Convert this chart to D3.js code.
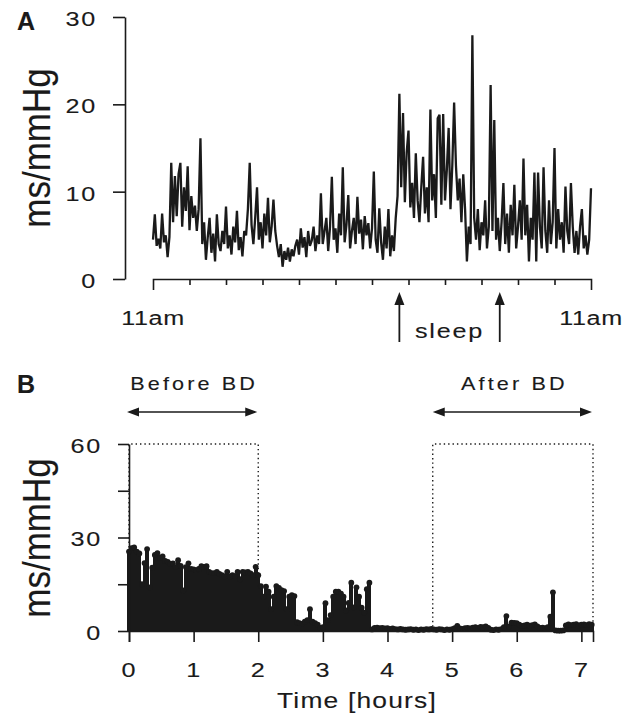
<!DOCTYPE html>
<html lang="en">
<head>
  <meta charset="UTF-8">
  <title>Baroreflex sensitivity</title>
  <script src="https://d3js.org/d3.v7.min.js"></script>
  <style>
    body {
      margin: 0;
      background: #fff;
    }
    svg text {
      font-family: "Liberation Sans", Arial, sans-serif;
      fill: #1a1a1a;
      stroke: #1a1a1a;
      stroke-width: 0.12px;
    }
    .tick text {
      font-size: 21px;
      letter-spacing: 1.5px;
    }
    .domain, .tick line {
      stroke: #1a1a1a;
      stroke-width: 1.6;
    }
  </style>
</head>
<body>
  <svg width="636" height="719"></svg>

  <script>
    // Panel A: 24 h trace, one value every 0.1 h starting at 11am
    const valuesA = [
      4.5, 7.4, 3.8, 4.6, 3.5, 7.5, 4.2, 5.0, 2.5, 4.8,
      13.3, 6.5, 11.8, 7.2, 12.0, 13.3, 6.0, 10.5, 7.8, 12.9, 5.6, 9.5, 7.0, 8.4, 5.5, 8.0, 16.1,
      4.0, 6.5, 2.2, 4.8, 7.0, 3.0, 5.2, 2.0, 7.4, 4.0, 3.2, 5.5, 4.0, 8.3, 3.5, 5.0, 2.8, 6.0, 4.2, 7.8, 3.3, 4.8, 2.6, 5.5,
      5.0, 8.0, 13.3, 6.2, 4.0, 7.0, 10.5, 4.5, 6.5, 3.5, 7.5, 5.0, 9.3, 4.2, 6.0, 9.1, 5.5,
      3.8, 2.5, 4.0, 1.4, 3.2, 2.2, 3.6, 2.0, 3.4, 2.6, 3.8,
      4.5, 2.8, 5.8, 3.6, 4.8, 2.5, 5.5, 3.8, 4.4, 6.0, 3.2, 5.0, 4.0,
      9.8, 4.0, 5.5, 7.0, 3.2, 6.0, 11.7, 4.5, 5.8, 3.0, 7.5, 5.0, 12.8, 4.2, 6.2, 9.6,
      3.5, 5.5, 7.0, 4.0, 9.4, 5.2, 6.8, 3.4, 7.2, 5.0, 6.4, 3.5, 5.8, 12.3, 4.5,
      3.0, 8.1, 4.2, 2.2, 6.0, 3.5, 8.0, 2.6, 5.0, 3.2, 7.0,
      9.5, 21.2, 10.5, 19.0, 8.8, 14.5, 17.0,
      8.2, 11.0, 7.0, 14.4, 9.0, 6.5, 10.5, 14.0,
      7.5, 10.5, 6.5, 19.4, 9.0, 12.0, 7.0, 18.4, 18.8, 8.5,
      18.9, 9.0, 12.5, 17.3, 8.0, 13.0, 20.2,
      13.0, 9.0, 11.5, 6.5, 12.0, 8.0, 2.0,
      6.0, 4.0, 27.9, 7.0,
      4.5, 8.0, 3.3, 6.5, 5.0, 9.0, 3.5,
      6.0, 22.2, 5.5, 18.2, 4.5,
      7.0, 3.2, 6.5, 11.0, 4.0, 7.5, 3.0, 8.5, 5.0, 10.8, 3.5, 6.0, 9.0, 4.5,
      13.8,
      5.0, 8.5, 2.0, 7.0, 4.5, 12.2, 2.0, 12.2, 6.0, 3.5, 12.8, 5.5,
      3.0, 9.0, 4.0, 6.5, 15.0,
      3.5, 8.0, 4.5, 6.5, 3.0, 10.6, 5.5, 4.0, 11.0, 6.0,
      3.0, 5.5, 2.8, 6.0, 8.0, 3.5, 5.0, 2.8, 4.5, 10.4
    ];
    const hoursA = 24;
    const ticksA = [0, 10, 20, 30];
    const sleepMarks = [13.5, 19];

    // Panel B: one value every 0.04 h
    const valuesB = [
      25.5, 26.6, 26.8, 25.5, 24.9, 15.0, 21.8, 26.3, 14.0, 20.3,
      24.4, 25.0, 23.5, 23.9, 22.5, 22.2, 21.5, 21.7, 20.5, 22.7,
      20.9, 13.0, 20.5, 21.7, 19.9, 19.8, 19.5, 19.9, 20.8, 20.6,
      20.8, 19.0, 18.6, 18.6, 19.0, 18.3, 17.9, 17.5, 19.0, 17.5,
      17.9, 17.6, 19.0, 16.6, 19.0, 18.8, 19.0, 18.5, 17.9, 20.6,
      17.9, 14.4, 11.0, 14.2, 12.6, 7.0, 11.0, 14.4, 13.8, 13.1,
      12.8, 7.0, 11.0, 11.5, 11.2, 2.8, 2.5, 2.3, 3.0, 3.5,
      7.0, 3.0, 2.5, 2.0, 1.0, 1.2, 8.9, 3.5, 5.1, 11.0,
      12.6, 12.6, 12.0, 11.0, 6.6, 9.0, 15.5, 7.6, 14.0, 11.0,
      7.5, 5.9, 13.4, 15.5, 0.5, 1.0, 1.1, 0.9, 1.0, 0.8,
      0.9, 0.7, 0.8, 0.6, 0.5, 0.7, 0.5, 0.4, 0.5, 0.6,
      0.4, 0.5, 0.3, 0.5, 0.4, 0.6, 0.5, 0.7, 0.5, 0.4,
      0.6, 0.5, 0.3, 0.5, 0.4, 0.6, 0.9, 1.6, 0.8, 0.7,
      0.9, 1.0, 0.8, 1.1, 1.2, 1.0, 1.3, 1.2, 1.5, 1.0,
      0.4, 0.3, 0.5, 0.4, 0.6, 1.2, 4.8, 1.5, 2.7, 2.6,
      2.5, 2.0, 1.6, 1.8, 2.0, 1.7, 1.9, 2.1, 1.5, 1.0,
      1.1, 0.9, 1.2, 4.6, 12.4, 0.2, 0.1, 0.1, 0.2, 1.8,
      2.1, 1.9, 2.0, 2.2, 1.8, 2.0, 2.1, 1.9, 2.2, 2.0
    ];
    const stepB = 0.04;
    const hoursB = 7.18;
    const tickLabelsB = [0, 1, 2, 3, 4, 5, 6, 7];
    const yTicksB = [0, 15, 30, 45, 60];
    const before = [0, 2];
    const after = [4.7, 7.18];

    const svg = d3.select("svg");
    const ink = "#1a1a1a";
    const SX = 1.2; // the original lettering is a little wide

    // text stretched horizontally around its anchor point
    function label(x, y, str, size, spacing, anchor) {
      svg.append("text")
        .attr("transform", `translate(${x},${y}) scale(${SX},1)`)
        .attr("text-anchor", anchor || "middle")
        .style("font-size", size + "px")
        .style("letter-spacing", spacing + "px")
        .text(str);
    }
    function wideTicks(g) {
      g.selectAll(".tick text").each(function () {
        const t = d3.select(this);
        const x = +t.attr("x") || 0;
        t.attr("x", x / SX).attr("transform", `scale(${SX},1)`);
      });
    }

    // ---------- Panel A ----------
    const xA = d3.scaleLinear().domain([0, hoursA]).range([153, 591]);
    const yA = d3.scaleLinear().domain([0, 30]).range([279, 17]);

    svg.append("g")
      .attr("transform", "translate(125,0)")
      .call(d3.axisLeft(yA).tickValues(ticksA).tickSize(12).tickSizeOuter(0).tickPadding(16))
      .call(g => g.selectAll(".tick text").attr("dy", "0.4em"))
      .call(wideTicks);

    svg.append("g")
      .attr("transform", "translate(0,279)")
      .call(d3.axisBottom(xA).tickValues(d3.range(2, 24, 2)).tickSize(6).tickSizeOuter(11).tickFormat(""));

    const stepA = hoursA / (valuesA.length - 1);
    svg.append("path")
      .datum(valuesA)
      .attr("fill", "none")
      .attr("stroke", ink)
      .attr("stroke-width", 2.3)
      .attr("stroke-linejoin", "miter")
      .attr("d", d3.line().x((d, i) => xA(i * stepA)).y(d => yA(d)));

    [0, 24].forEach(h => label(xA(h), 325, "11am", 21, 0.5));

    // sleep arrows
    sleepMarks.forEach(h => {
      const x = xA(h);
      svg.append("line")
        .attr("x1", x).attr("x2", x).attr("y1", 302).attr("y2", 342)
        .attr("stroke", ink).attr("stroke-width", 1.8);
      svg.append("path")
        .attr("d", `M${x},292 L${x - 5},305 L${x + 5},305 Z`)
        .attr("fill", ink);
    });
    label((xA(sleepMarks[0]) + xA(sleepMarks[1])) / 2, 338, "sleep", 21, 1.5);

    svg.append("text")
      .attr("transform", "translate(50,148) rotate(-90) scale(1,1.12)")
      .attr("text-anchor", "middle")
      .style("font-size", "35px")
      .text("ms/mmHg");

    svg.append("text")
      .attr("x", 17).attr("y", 30)
      .style("font-size", "25px").style("font-weight", "bold")
      .text("A");

    // ---------- Panel B ----------
    const xB = d3.scaleLinear().domain([0, hoursB]).range([129, 593]);
    const yB = d3.scaleLinear().domain([0, 60]).range([631, 444]);

    // dotted windows
    [before, after].forEach(w => {
      svg.append("path")
        .attr("d", `M${xB(w[0])},${yB(0)} V${yB(60)} H${xB(w[1])} V${yB(0)}`)
        .attr("fill", "none")
        .attr("stroke", ink)
        .attr("stroke-width", 1.4)
        .attr("stroke-dasharray", "1.4,3");
    });

    // stems
    svg.append("g")
      .attr("shape-rendering", "crispEdges")
      .selectAll("line")
      .data(valuesB)
      .join("line")
      .attr("x1", (d, i) => xB(i * stepB))
      .attr("x2", (d, i) => xB(i * stepB))
      .attr("y1", yB(0))
      .attr("y2", d => yB(d))
      .attr("stroke", ink)
      .attr("stroke-width", 4);

    svg.append("g")
      .selectAll("circle")
      .data(valuesB)
      .join("circle")
      .attr("cx", (d, i) => xB(i * stepB))
      .attr("cy", d => yB(d))
      .attr("r", 2.9)
      .attr("fill", ink);

    svg.append("g")
      .attr("transform", "translate(129,0)")
      .call(d3.axisLeft(yB).tickValues(yTicksB).tickSize(11).tickSizeOuter(0).tickPadding(16)
        .tickFormat(d => d % 30 === 0 ? d : ""))
      .call(g => g.selectAll(".tick text").attr("dy", "0.4em"))
      .call(wideTicks);

    svg.append("g")
      .attr("transform", "translate(0,631)")
      .call(d3.axisBottom(xB).tickValues(tickLabelsB).tickSize(11).tickSizeOuter(11).tickPadding(20))
      .call(wideTicks);

    label(357, 708, "Time [hours]", 22, 1);

    // before / after arrows
    const arrowDefs = [
      { w: before, label: "Before BD", x0: 127 },
      { w: after, label: "After BD", x0: null }
    ];
    arrowDefs.forEach(a => {
      const x0 = a.x0 !== null ? a.x0 : xB(a.w[0]);
      const x1 = xB(a.w[1]) - 1;
      const y = 412;
      svg.append("line")
        .attr("x1", x0 + 8).attr("x2", x1 - 8).attr("y1", y).attr("y2", y)
        .attr("stroke", ink).attr("stroke-width", 1.7);
      svg.append("path")
        .attr("d", `M${x0},${y} L${x0 + 12},${y - 4.5} L${x0 + 12},${y + 4.5} Z M${x1},${y} L${x1 - 12},${y - 4.5} L${x1 - 12},${y + 4.5} Z`)
        .attr("fill", ink);
      label((x0 + x1) / 2 + 2, 390, a.label, 18, 2.6);
    });

    svg.append("text")
      .attr("transform", "translate(50,538) rotate(-90) scale(1,1.12)")
      .attr("text-anchor", "middle")
      .style("font-size", "35px")
      .text("ms/mmHg");

    svg.append("text")
      .attr("x", 17).attr("y", 393)
      .style("font-size", "25px").style("font-weight", "bold")
      .text("B");
  </script>
</body>
</html>
